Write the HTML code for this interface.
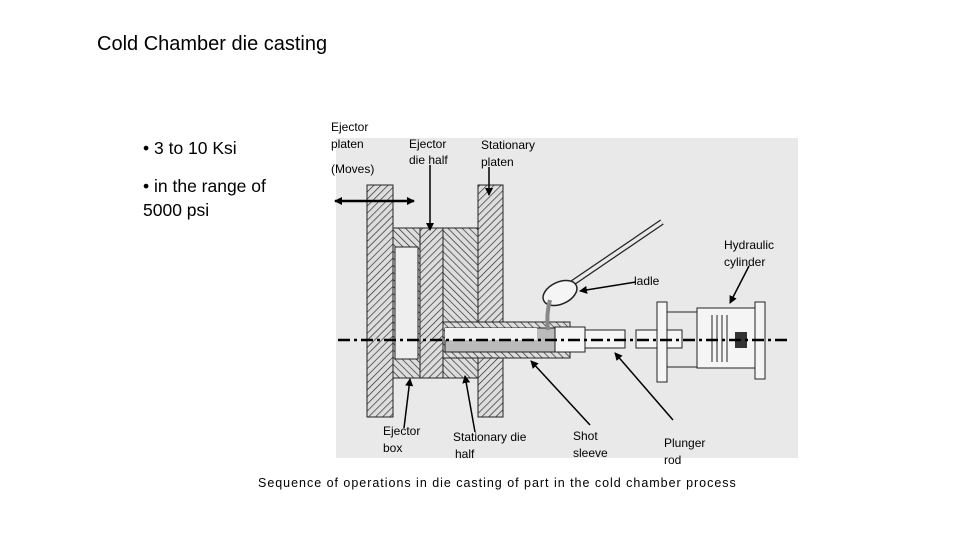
<!DOCTYPE html>
<html><head><meta charset="utf-8"><style>
body{margin:0;background:#fff;}
.wrap{position:relative;width:960px;height:540px;overflow:hidden;font-family:"Liberation Sans",sans-serif;color:#000;}
.t{position:absolute;white-space:nowrap;}
</style></head><body><div class="wrap">
<div class="t" style="left:97px;top:33px;font-size:20px;">Cold Chamber die casting</div>
<div class="t" style="left:143px;top:138px;font-size:17.5px;">• 3 to 10 Ksi</div>
<div class="t" style="left:143px;top:174px;font-size:17.5px;line-height:24px;">• in the range of<br>5000 psi</div>
<svg width="960" height="540" style="position:absolute;left:0;top:0" font-family="Liberation Sans, sans-serif">
<defs>
<pattern id="h1" width="5" height="5" patternUnits="userSpaceOnUse" patternTransform="rotate(45)"><rect width="5" height="5" fill="#ddd"/><line x1="0" y1="0" x2="0" y2="5" stroke="#222" stroke-width="1.3"/></pattern>
<pattern id="h2" width="5" height="5" patternUnits="userSpaceOnUse" patternTransform="rotate(-45)"><rect width="5" height="5" fill="#ddd"/><line x1="0" y1="0" x2="0" y2="5" stroke="#222" stroke-width="1.3"/></pattern>
<marker id="a" markerWidth="8" markerHeight="8" refX="7" refY="4" orient="auto" markerUnits="userSpaceOnUse"><path d="M0,0 L8,4 L0,8z" fill="#000"/></marker>
<marker id="b" markerWidth="8" markerHeight="8" refX="1" refY="4" orient="auto" markerUnits="userSpaceOnUse"><path d="M8,0 L0,4 L8,8z" fill="#000"/></marker>
</defs>
<rect x="336" y="138" width="462" height="320" fill="#e9e9e9"/>
<rect x="367" y="185" width="26" height="232" fill="url(#h1)" stroke="#222"/>
<rect x="478" y="185" width="25" height="232" fill="url(#h1)" stroke="#222"/>
<rect x="393" y="228" width="27" height="150" fill="url(#h2)" stroke="#222"/>
<rect x="395" y="247" width="23" height="112" fill="#eee" stroke="#222"/>
<rect x="420" y="228" width="23" height="150" fill="url(#h1)" stroke="#222"/>
<rect x="443" y="228" width="35" height="150" fill="url(#h2)" stroke="#222"/>
<rect x="443" y="322" width="127" height="36" fill="url(#h2)" stroke="#222"/>
<rect x="445" y="328" width="122" height="24" fill="#bbb" stroke="#222"/>
<rect x="445" y="328" width="92" height="12" fill="#f2f2f2"/>
<rect x="555" y="327" width="30" height="25" fill="#f5f5f5" stroke="#222"/>
<rect x="585" y="330" width="40" height="18" fill="#f5f5f5" stroke="#222"/>
<rect x="636" y="330" width="46" height="18" fill="#f5f5f5" stroke="#222"/>
<rect x="657" y="302" width="10" height="80" fill="#f5f5f5" stroke="#222"/>
<rect x="667" y="312" width="30" height="55" fill="none" stroke="#222"/>
<rect x="697" y="308" width="58" height="60" fill="#f5f5f5" stroke="#222"/>
<rect x="755" y="302" width="10" height="77" fill="#f5f5f5" stroke="#222"/>
<line x1="712" y1="315" x2="712" y2="362" stroke="#222"/><line x1="717" y1="315" x2="717" y2="362" stroke="#222"/><line x1="722" y1="315" x2="722" y2="362" stroke="#222"/><line x1="727" y1="315" x2="727" y2="362" stroke="#222"/>
<rect x="735" y="332" width="12" height="16" fill="#333"/>
<line x1="338" y1="340" x2="790" y2="340" stroke="#000" stroke-width="2.5" stroke-dasharray="12,4,3,4"/>
<line x1="568" y1="286" x2="662" y2="222" stroke="#222" stroke-width="6"/>
<line x1="568" y1="286" x2="662" y2="222" stroke="#e9e9e9" stroke-width="3.5"/>
<ellipse cx="560" cy="293" rx="18" ry="11" transform="rotate(-25 560 293)" fill="#f5f5f5" stroke="#222" stroke-width="1.5"/>
<path d="M550,300 Q546,315 548,330" stroke="#888" stroke-width="4" fill="none"/>
<line x1="335" y1="201" x2="414" y2="201" stroke="#000" stroke-width="2.5" marker-end="url(#a)" marker-start="url(#b)"/>
<g stroke="#000" stroke-width="1.5" fill="none">
<line x1="430" y1="165" x2="430" y2="230" marker-end="url(#a)"/>
<line x1="489" y1="167" x2="489" y2="195" marker-end="url(#a)"/>
<line x1="636" y1="282" x2="580" y2="291" marker-end="url(#a)"/>
<line x1="749" y1="266" x2="730" y2="303" marker-end="url(#a)"/>
<line x1="404" y1="428" x2="410" y2="379" marker-end="url(#a)"/>
<line x1="475" y1="432" x2="465" y2="376" marker-end="url(#a)"/>
<line x1="590" y1="425" x2="531" y2="361" marker-end="url(#a)"/>
<line x1="673" y1="420" x2="615" y2="353" marker-end="url(#a)"/>
</g>
<g font-size="12" fill="#000">
<text x="331" y="131">Ejector</text><text x="331" y="148">platen</text>
<text x="331" y="173">(Moves)</text>
<text x="409" y="148">Ejector</text><text x="409" y="164">die half</text>
<text x="481" y="149">Stationary</text><text x="481" y="166">platen</text>
<text x="724" y="249">Hydraulic</text><text x="724" y="266">cylinder</text>
<text x="634" y="285">ladle</text>
<text x="383" y="435">Ejector</text><text x="383" y="452">box</text>
<text x="453" y="441">Stationary die</text><text x="455" y="458">half</text>
<text x="573" y="440">Shot</text><text x="573" y="457">sleeve</text>
<text x="664" y="447">Plunger</text><text x="664" y="464">rod</text>
<text x="258" y="487" font-size="12.5" letter-spacing="0.98">Sequence of operations in die casting of part in the cold chamber process</text>
</g>
</svg>
</div></body></html>
